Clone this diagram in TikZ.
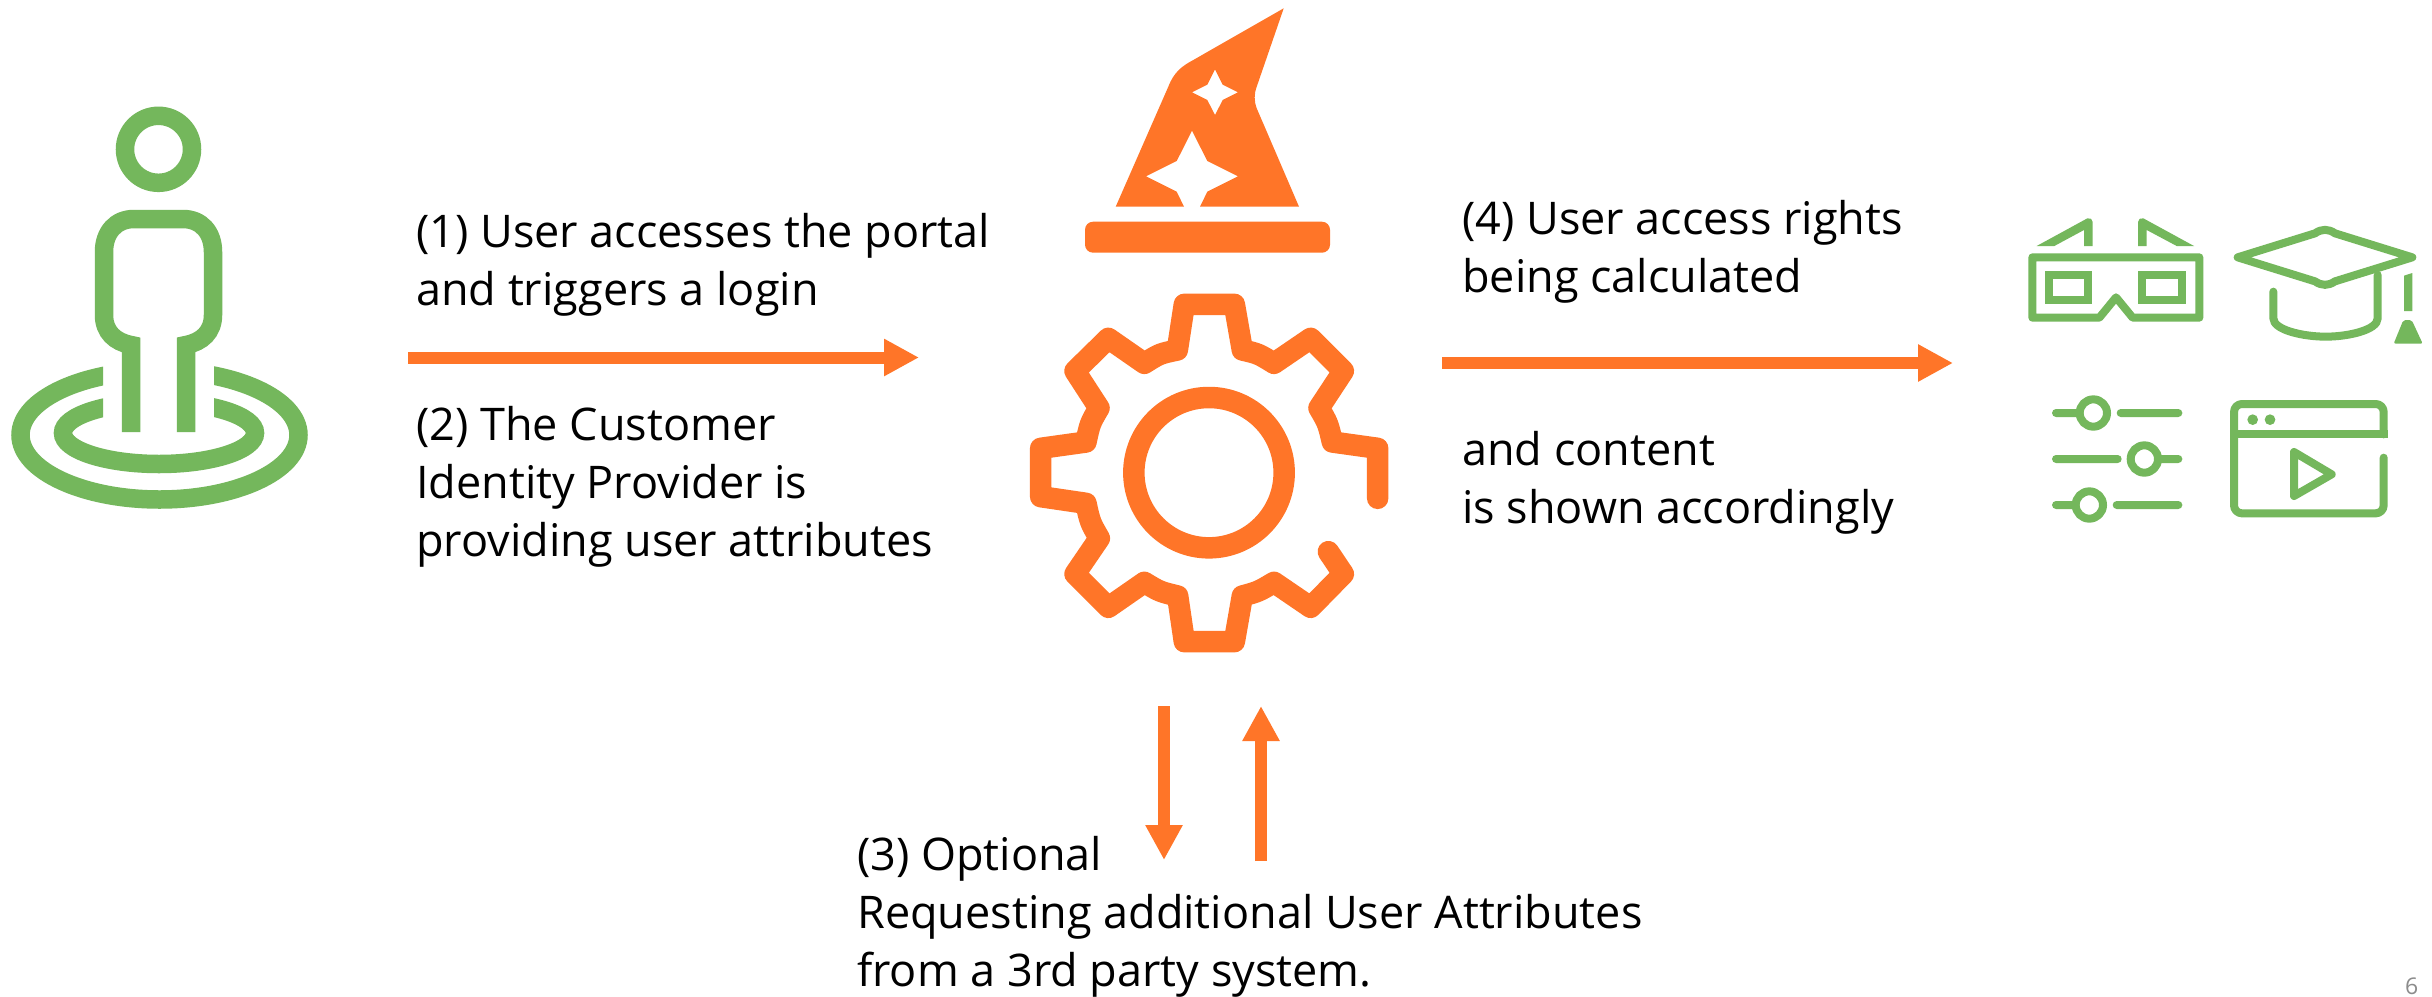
\documentclass[tikz,border=0pt]{standalone}
\usepackage{fontspec}
\setmainfont{Open Sans}
\usetikzlibrary{arrows.meta}
\definecolor{icoorange}{HTML}{FF7528}
\definecolor{icogreen}{HTML}{74B75C}
\tikzset{
  flow/.style={draw=icoorange,line width=12pt,-{Triangle[length=35pt,width=35pt]}},
  caption/.style={anchor=base west,inner sep=0pt,align=left,text=black,font=\fontsize{45}{58}\selectfont},
  gstroke/.style={draw=icogreen,line width=8pt,line cap=round,line join=round},
  ostroke/.style={draw=icoorange,line width=21.5pt,line cap=round,line join=round},
  person/.style={draw=icogreen,line width=18.5pt}
}
\begin{document}
\begin{tikzpicture}[x=1pt,y=-1pt]
\useasboundingbox (0,0) rectangle (2432,996);
\fill[white] (0,0) rectangle (2432,996);
% person
\draw[person] (158.5,149.3) circle (33.5);
\draw[person] (131,432) -- (131,345) .. controls (115,342) and (104,332) .. (104,315) -- (104,252) .. controls (104,232) and (116,219) .. (134,219) -- (183,219) .. controls (201,219) and (213,232) .. (213,252) -- (213,315) .. controls (213,332) and (202,342) .. (186,345) -- (186,432);
\begin{scope}
\clip (0,0) rectangle (103,996) (214,0) rectangle (2432,996) (103,425) rectangle (214,996);
\draw[person] (159.5,435) ellipse (139 and 64.5);
\draw[person] (159,433) ellipse (96 and 31);
\end{scope}
% hat
\fill[icoorange,even odd rule] (1115.7,206.7) -- (1168.3,86.7) .. controls (1174,72) and (1182,66) .. (1193.3,60) -- (1283.7,8.3) -- (1256.7,86.7) .. controls (1254,94) and (1254,101) .. (1256.7,108.3) -- (1299,206.7) -- (1200,206.7) -- (1207.3,191.7) -- (1238,176.3) -- (1207.3,161) -- (1192,130.7) -- (1176.7,161) -- (1146,176.3) -- (1176.7,191.7) -- (1184,206.7) -- cycle
 (1215,69.3) -- (1222.7,84.7) -- (1238,92.3) -- (1222.7,100) -- (1215,115) -- (1207.3,100) -- (1192,92.3) -- (1207.3,84.7) -- cycle;
\fill[icoorange,rounded corners=8pt] (1085,221.7) rectangle (1330,252.7);
% gear
\begin{scope}[shift={(1000,270)},scale=1/3]
\draw[ostroke] (627,608) circle (225.5);
\draw[ostroke] (1133,685) -- (1133,535) -- (997,516) .. controls (984,460) .. (957,414) -- (1030,303) -- (932,205) -- (822,280) .. controls (775,251) .. (727,240) -- (703,103) -- (553,103) -- (532,240) .. controls (479,251) .. (433,280) -- (325,205) -- (225,303) -- (297,414) .. controls (270,460) .. (258,516) -- (122,535) -- (122,680) -- (258,700) .. controls (270,756) .. (298,805) -- (225,912) -- (325,1012) -- (433,937) .. controls (479,965) .. (533,978) -- (553,1115) -- (703,1115) -- (727,978) .. controls (775,965) .. (822,937) -- (932,1012) -- (1030,912) -- (985,845);
\end{scope}
% glasses and cap
\begin{scope}[shift={(2010,200)},scale=1/3]
\draw[gstroke] (67,172) -- (568,172) -- (568,353) -- (368,353) -- (318,292) -- (268,353) -- (67,353) -- cycle;
\draw[gstroke,line cap=butt,line join=miter] (117,226) rectangle (234,300);
\draw[gstroke,line cap=butt,line join=miter] (397,226) rectangle (516,300);
\fill[icogreen] (80,138) -- (232,55) .. controls (240,52) and (248,58) .. (248,66) -- (248,138) -- (222,138) -- (222,90) -- (133,138) -- cycle;
\fill[icogreen] (552,138) -- (400,55) .. controls (392,52) and (384,58) .. (384,66) -- (384,138) -- (410,138) -- (410,90) -- (500,138) -- cycle;
\draw[gstroke] (683,172) -- (915,100) .. controls (935,86) and (955,86) .. (975,100) -- (1207,172) -- (975,244) .. controls (955,258) and (935,258) .. (915,244) -- cycle;
\draw[gstroke] (790,275) -- (790,355) .. controls (790,390) and (880,410) .. (947,410) .. controls (1015,410) and (1103,390) .. (1103,355) -- (1103,225);
\fill[icogreen] (1182,227) -- (1207,219) -- (1207,333) -- (1182,333) -- cycle;
\fill[icogreen,rounded corners=2pt] (1180,360) -- (1205,360) -- (1238,431) -- (1151,431) -- cycle;
\end{scope}
% sliders and window
\begin{scope}[shift={(2030,380)},scale=1/3]
\draw[gstroke] (78,99) -- (140,99) (190,99) circle (41) (272,99) -- (445,99);
\draw[gstroke] (78,237) -- (263,237) (343,237) circle (41) (395,237) -- (445,237);
\draw[gstroke] (78,375) -- (127,375) (178,375) circle (41) (260,375) -- (445,375);
\draw[gstroke,rounded corners=8pt] (1061,233) -- (1061,400) -- (612,400) -- (612,72) -- (1061,72) -- (1061,163);
\draw[gstroke,line cap=butt] (612,163) -- (1073,163);
\fill[icogreen] (668,119) circle (16) (720,119) circle (16);
\draw[gstroke] (792,216) -- (905,283) -- (792,348) -- cycle;
\end{scope}
% arrows
\coordinate (a1s) at (408,357.5); \coordinate (a1e) at (919,357.5);
\coordinate (a4s) at (1442,363); \coordinate (a4e) at (1953,363);
\coordinate (a3s) at (1164,706); \coordinate (a3e) at (1164,860);
\coordinate (a5s) at (1261,861); \coordinate (a5e) at (1261,706);
\draw[flow] (a1s) -- (a1e);
\draw[flow] (a4s) -- (a4e);
\draw[flow] (a3s) -- (a3e);
\draw[flow] (a5s) -- (a5e);
% text
\node[caption] (t1) at (416,305) {(1) User accesses the portal\\and triggers a login};
\node[caption] (t2) at (416,556) {(2) The Customer\\Identity Provider is\\providing user attributes};
\node[caption] (t4) at (1462,292.7) {(4) User access rights\\being calculated};
\node[caption] (t5) at (1462,523.3) {and content\\is shown accordingly};
\node[caption] (t3) at (857,986.7) {(3) Optional\\Requesting additional User Attributes\\from a 3rd party system.};
\node[anchor=base west,inner sep=0pt,text=black!45,font=\fontsize{23}{26}\selectfont] (pg) at (2405,994) {6};
\end{tikzpicture}
\end{document}
